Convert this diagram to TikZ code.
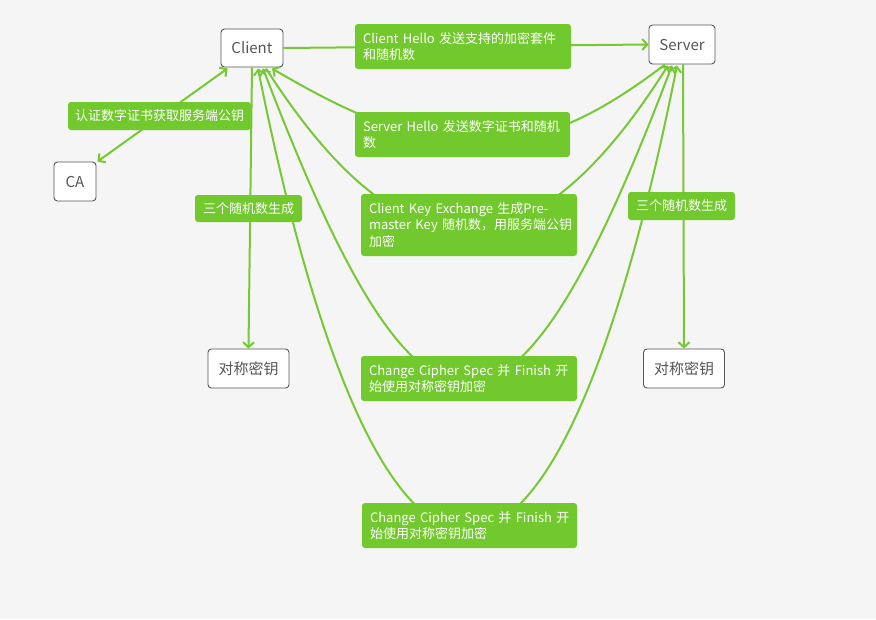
\documentclass[tikz,border=0pt]{standalone}
\usepackage{fontspec}
\setmainfont{Noto Sans CJK SC}
\usetikzlibrary{arrows.meta,calc}
\definecolor{bg}{RGB}{245,245,245}
\definecolor{lblgreen}{RGB}{114,201,45}
\definecolor{lngreen}{RGB}{118,201,52}
\definecolor{boxgray}{RGB}{85,85,85}
\begin{document}
\begin{tikzpicture}[x=1pt,y=-1pt,
  box/.style={draw=boxgray, fill=white, rounded corners=3.5pt, line width=0.9pt, text=boxgray,
    font=\fontsize{15}{18}\selectfont, inner sep=0pt},
  lblbase/.style={fill=lblgreen, rounded corners=3pt, text=white,
    font=\fontsize{13}{16.5}\selectfont, inner ysep=0pt},
  lblmulti/.style={lblbase, align=left, inner xsep=8pt},
  lblsingle/.style={lblbase, inner xsep=0pt},
  conn/.style={draw=lngreen, line width=2pt},
  arrowend/.style={-{Straight Barb[length=5pt,width=11pt]}},
  arrowboth/.style={{Straight Barb[length=5pt,width=11pt]}-{Straight Barb[length=5pt,width=11pt]}}
]
\useasboundingbox (0,0) rectangle (876,619);
\fill[bg] (0,0) rectangle (876,619);

% main boxes
\node[box, minimum width=62pt, minimum height=38pt] (Client) at (252,48) {Client};
\node[box, minimum width=66pt, minimum height=39pt] (Server) at (682,44.5) {Server};
\node[box, minimum width=42pt, minimum height=39pt] (CA) at (75,181.5) {CA};
\node[box, minimum width=81pt, minimum height=39pt] (keyL) at (248.5,368.5) {对称密钥};
\node[box, minimum width=81pt, minimum height=39pt] (keyR) at (684,368.5) {对称密钥};

% connectors
\draw[conn, arrowend] (Client.east) -- (Server.west);
\draw[conn, arrowend] ($(Server.south)+(-17,0)$) .. controls (530,168) and (440,168) .. ($(Client.south)+(20,1)$);
\draw[conn, arrowend] ($(Client.south)+(14,1)$) .. controls (404,284) and (530,284) .. ($(Server.south)+(-14,1)$);
\draw[conn, arrowboth] ($(Client.south)+(11,1)$) .. controls (423,488) and (512,488) .. ($(Server.south)+(-10,1)$);
\draw[conn, arrowboth] ($(Client.south)+(6,1)$) .. controls (381,684) and (554,684) .. ($(Server.south)+(-5,1)$);
\draw[conn, arrowboth] ($(Client.south west)+(7,1)$) -- ($(CA.north east)+(1,0)$);
\draw[conn, arrowend] (Client.south) -- (keyL.north);
\draw[conn, arrowend] ($(Server.south)+(1,0)$) -- (keyR.north);

% labels
\node[lblmulti, minimum height=45pt, text width=200pt] (lCH) at (463,46.5)
  {\mbox{Client Hello 发送支持的加密套件}\\\mbox{和随机数}};
\node[lblmulti, minimum height=45pt, text width=199pt] (lSH) at (462.5,134.5)
  {\mbox{Server Hello 发送数字证书和随机}\\\mbox{数}};
\node[lblsingle, minimum width=183pt, minimum height=28pt] (lCA) at (159.5,116)
  {认证数字证书获取服务端公钥};
\node[lblsingle, minimum width=107pt, minimum height=27pt] (lRL) at (248.5,208.5)
  {三个随机数生成};
\node[lblsingle, minimum width=107pt, minimum height=28pt] (lRR) at (681.5,206)
  {三个随机数生成};
\node[lblmulti, minimum height=62pt, text width=200pt] (lCKE) at (469,225)
  {\mbox{Client Key Exchange 生成Pre-}\\\mbox{master Key 随机数，用服务端公钥}\\\mbox{加密}};
\node[lblmulti, minimum height=45pt, text width=200pt] (lCCS1) at (469,378.5)
  {\mbox{Change Cipher Spec 并 Finish 开}\\\mbox{始使用对称密钥加密}};
\node[lblmulti, minimum height=45pt, text width=199pt] (lCCS2) at (469.5,525.5)
  {\mbox{Change Cipher Spec 并 Finish 开}\\\mbox{始使用对称密钥加密}};
\end{tikzpicture}
\end{document}
